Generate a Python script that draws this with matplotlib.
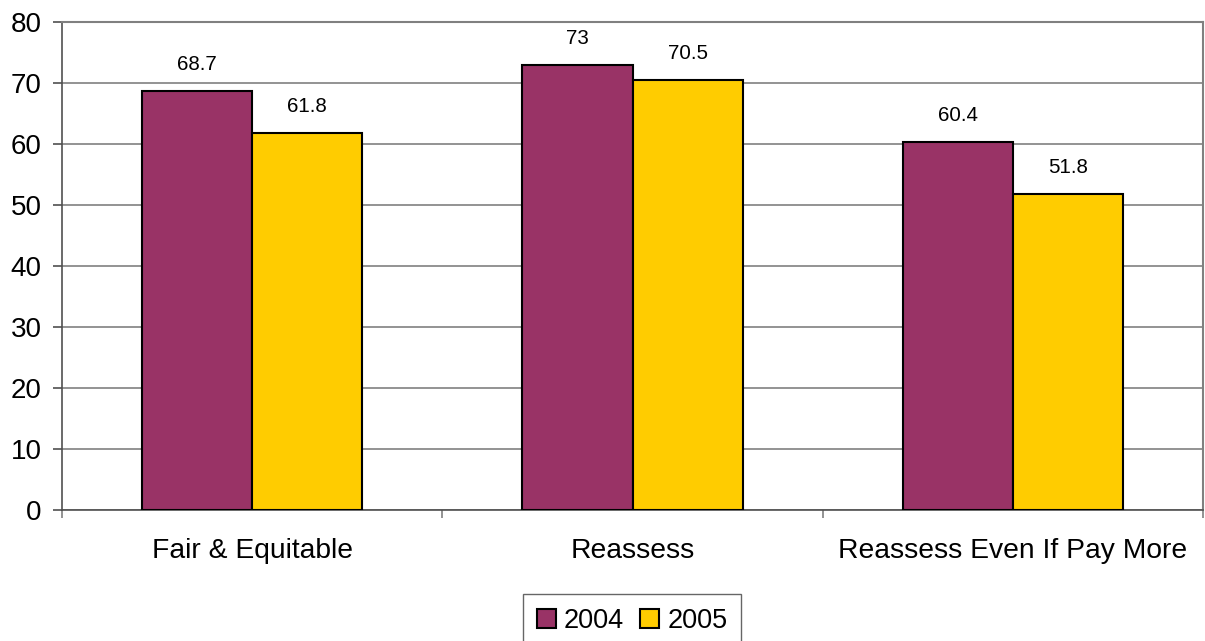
import matplotlib
matplotlib.use("Agg")
import matplotlib.pyplot as plt
import numpy as np

categories = ["Fair & Equitable", "Reassess", "Reassess Even If Pay More"]
series_names = ["2004", "2005"]
values_2004 = [68.7, 73, 60.4]
values_2005 = [61.8, 70.5, 51.8]
value_labels_2004 = ["68.7", "73", "60.4"]
value_labels_2005 = ["61.8", "70.5", "51.8"]
colors = ["#993366", "#FFCC00"]

plt.rcParams['font.family'] = ['Liberation Sans', 'DejaVu Sans']

fig = plt.figure(figsize=(12.05, 6.41), dpi=100)
ax = fig.add_axes([62/1205, 1-510/641, (1203-62)/1205, (510-22)/641])

x = np.arange(len(categories)) + 0.5
w = 0.29
b1 = ax.bar(x - w/2, values_2004, w, color=colors[0], edgecolor="black", linewidth=1.5, label=series_names[0], zorder=3)
b2 = ax.bar(x + w/2, values_2005, w, color=colors[1], edgecolor="black", linewidth=1.5, label=series_names[1], zorder=3)

for bars, labs in ((b1, value_labels_2004), (b2, value_labels_2005)):
    for r, t in zip(bars, labs):
        ax.annotate(t, (r.get_x() + r.get_width()/2, r.get_height()), xytext=(0, 12),
                    textcoords="offset points", ha="center", va="bottom", fontsize=14.8)

ax.set_xlim(0, 3)
ax.set_ylim(0, 80)
ax.set_yticks(np.arange(0, 81, 10))
ax.yaxis.grid(True, color="#808080", linewidth=1.2, zorder=0)
ax.set_axisbelow(True)

ax.set_xticks([0, 1, 2, 3])
ax.set_xticklabels([])
ax.set_xticks(x, minor=True)
ax.set_xticklabels(categories, minor=True, fontsize=20.3)
ax.tick_params(axis="x", which="minor", length=0, pad=20)
ax.tick_params(axis="x", which="major", length=6, width=1.2, color="#808080")
ax.tick_params(axis="y", length=6.5, width=1.2, color="#505050", labelsize=20, pad=8)

for s in ("top", "right"):
    ax.spines[s].set_color("#808080")
    ax.spines[s].set_linewidth(1.5)
for s in ("left", "bottom"):
    ax.spines[s].set_color("#505050")
    ax.spines[s].set_linewidth(1.2)

leg = fig.legend(handles=[b1, b2], labels=series_names, loc="upper center",
                 bbox_to_anchor=(632/1205, 1-594/641), ncol=2, fontsize=19.5,
                 frameon=True, fancybox=False, edgecolor="#404040",
                 handlelength=0.7, handleheight=0.7, handletextpad=0.3,
                 columnspacing=0.6, borderpad=0.5, borderaxespad=0)
leg.get_frame().set_linewidth(1.0)

fig.savefig("out.png", dpi=100)
